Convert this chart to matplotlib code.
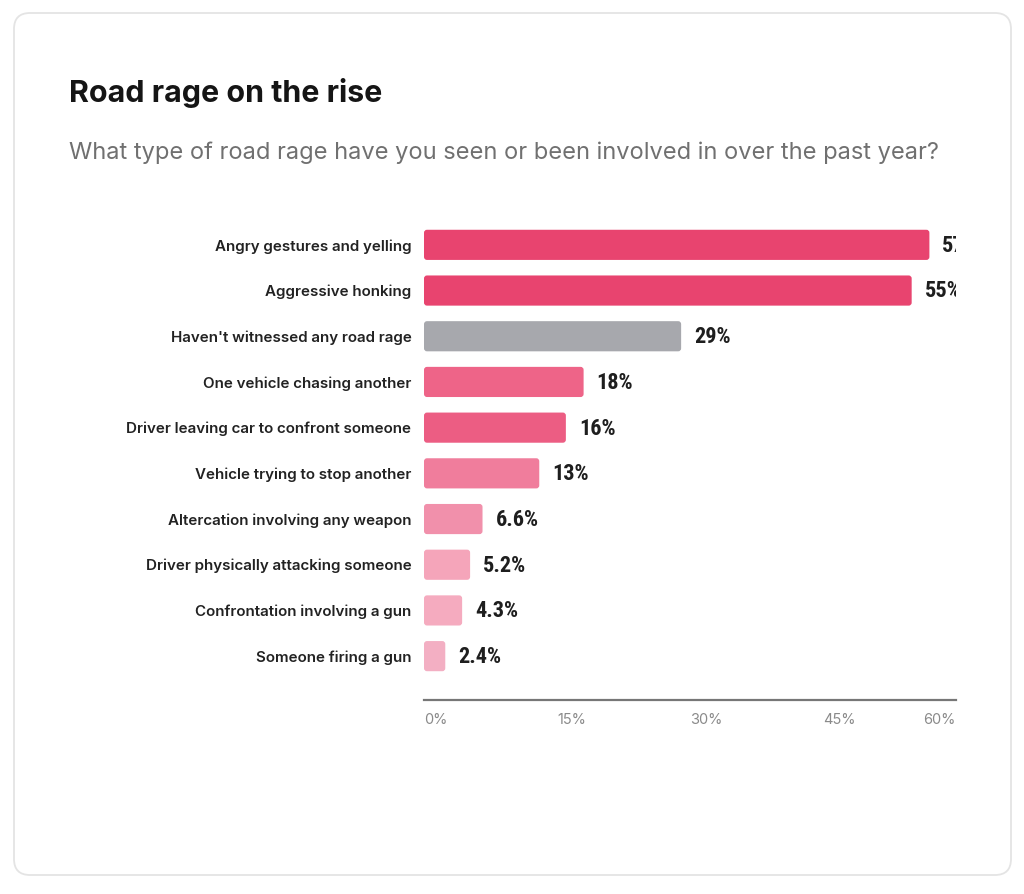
import matplotlib
matplotlib.use("Agg")
import matplotlib.pyplot as plt
from matplotlib.patches import FancyBboxPatch
from matplotlib.transforms import IdentityTransform

categories = [
    "Angry gestures and yelling",
    "Aggressive honking",
    "Haven't witnessed any road rage",
    "One vehicle chasing another",
    "Driver leaving car to confront someone",
    "Vehicle trying to stop another",
    "Altercation involving any weapon",
    "Driver physically attacking someone",
    "Confrontation involving a gun",
    "Someone firing a gun",
]
values = [57, 55, 29, 18, 16, 13, 6.6, 5.2, 4.3, 2.4]
value_labels = ["57%", "55%", "29%", "18%", "16%", "13%", "6.6%", "5.2%", "4.3%", "2.4%"]
bar_colors = ["#E8446F", "#E8446F", "#A7A8AD", "#EE6488", "#EC5D83",
              "#F07D9C", "#F190AB", "#F5A5BA", "#F5ABBF", "#F3AFC3"]
x_ticks = [0, 15, 30, 45, 60]
x_tick_labels = ["0%", "15%", "30%", "45%", "60%"]

W, H = 1024, 894
fig = plt.figure(figsize=(W / 100, H / 100), dpi=100)
fig.patch.set_facecolor("white")

# card
card = FancyBboxPatch((14, H - 875), 997, 862,
                      boxstyle="round,pad=0,rounding_size=16",
                      transform=IdentityTransform(), facecolor="white",
                      edgecolor="#E4E4E4", linewidth=1.3, zorder=-10)
fig.patches.append(card)

fig.text(69 / W, 1 - 93 / H, "Road rage on the rise", fontfamily="Inter",
         fontweight="bold", fontsize=21.9, color="#151515", va="center", ha="left")
fig.text(69 / W, 1 - 153 / H,
         "What type of road rage have you seen or been involved in over the past year?",
         fontfamily="Inter", fontsize=17.0, color="#707070", va="center", ha="left")

ax_l, ax_r, ax_t, ax_b = 424, 956, 222, 700
ax = fig.add_axes([ax_l / W, 1 - ax_b / H, (ax_r - ax_l) / W, (ax_b - ax_t) / H])
ax.set_facecolor("none")
ax.set_zorder(5)

ypos = list(range(len(categories)))
bars = ax.barh(ypos, values, height=0.66, color=bar_colors)
ax.set_xlim(0, 60)
ax.set_ylim(9.96, -0.5)

# rounded bars
px_per_x = (ax_r - ax_l) / 60
px_per_y = (ax_b - ax_t) / 10.46
r_px = 3
for b in bars:
    x0, y0 = b.get_x(), b.get_y()
    w, h = b.get_width(), b.get_height()
    fb = FancyBboxPatch((x0, y0), w, h,
                        boxstyle=f"round,pad=0,rounding_size={r_px / px_per_x}",
                        mutation_aspect=px_per_x / px_per_y,
                        facecolor=b.get_facecolor(), edgecolor="none")
    b.set_visible(False)
    ax.add_patch(fb)

for y, v, lab in zip(ypos, values, value_labels):
    ax.text(v + 13 / px_per_x, y + 0.02, lab, va="center", ha="left",
            fontfamily=["Roboto Condensed", "Liberation Sans Narrow", "DejaVu Sans"],
            fontweight="bold", fontstretch="condensed",
            fontsize=16, color="#1E1E1E", clip_on=True)

ax.set_yticks(ypos)
ax.set_yticklabels(categories, fontfamily="Inter", fontweight="semibold",
                   fontsize=10.9, color="#222222")
ax.tick_params(axis="y", length=0, pad=9)

ax.set_xticks(x_ticks)
ax.set_xticklabels(x_tick_labels, fontfamily="Inter", fontsize=10.5, color="#8A8A8A")
ax.tick_params(axis="x", length=0, pad=9)
tl = ax.get_xticklabels()
for i, t in enumerate(tl):
    t.set_ha("right" if i == len(tl) - 1 else "left")

for s in ["top", "right", "left"]:
    ax.spines[s].set_visible(False)
ax.spines["bottom"].set_color("#777777")
ax.spines["bottom"].set_linewidth(1.6)

fig.savefig("out.png", dpi=100)
